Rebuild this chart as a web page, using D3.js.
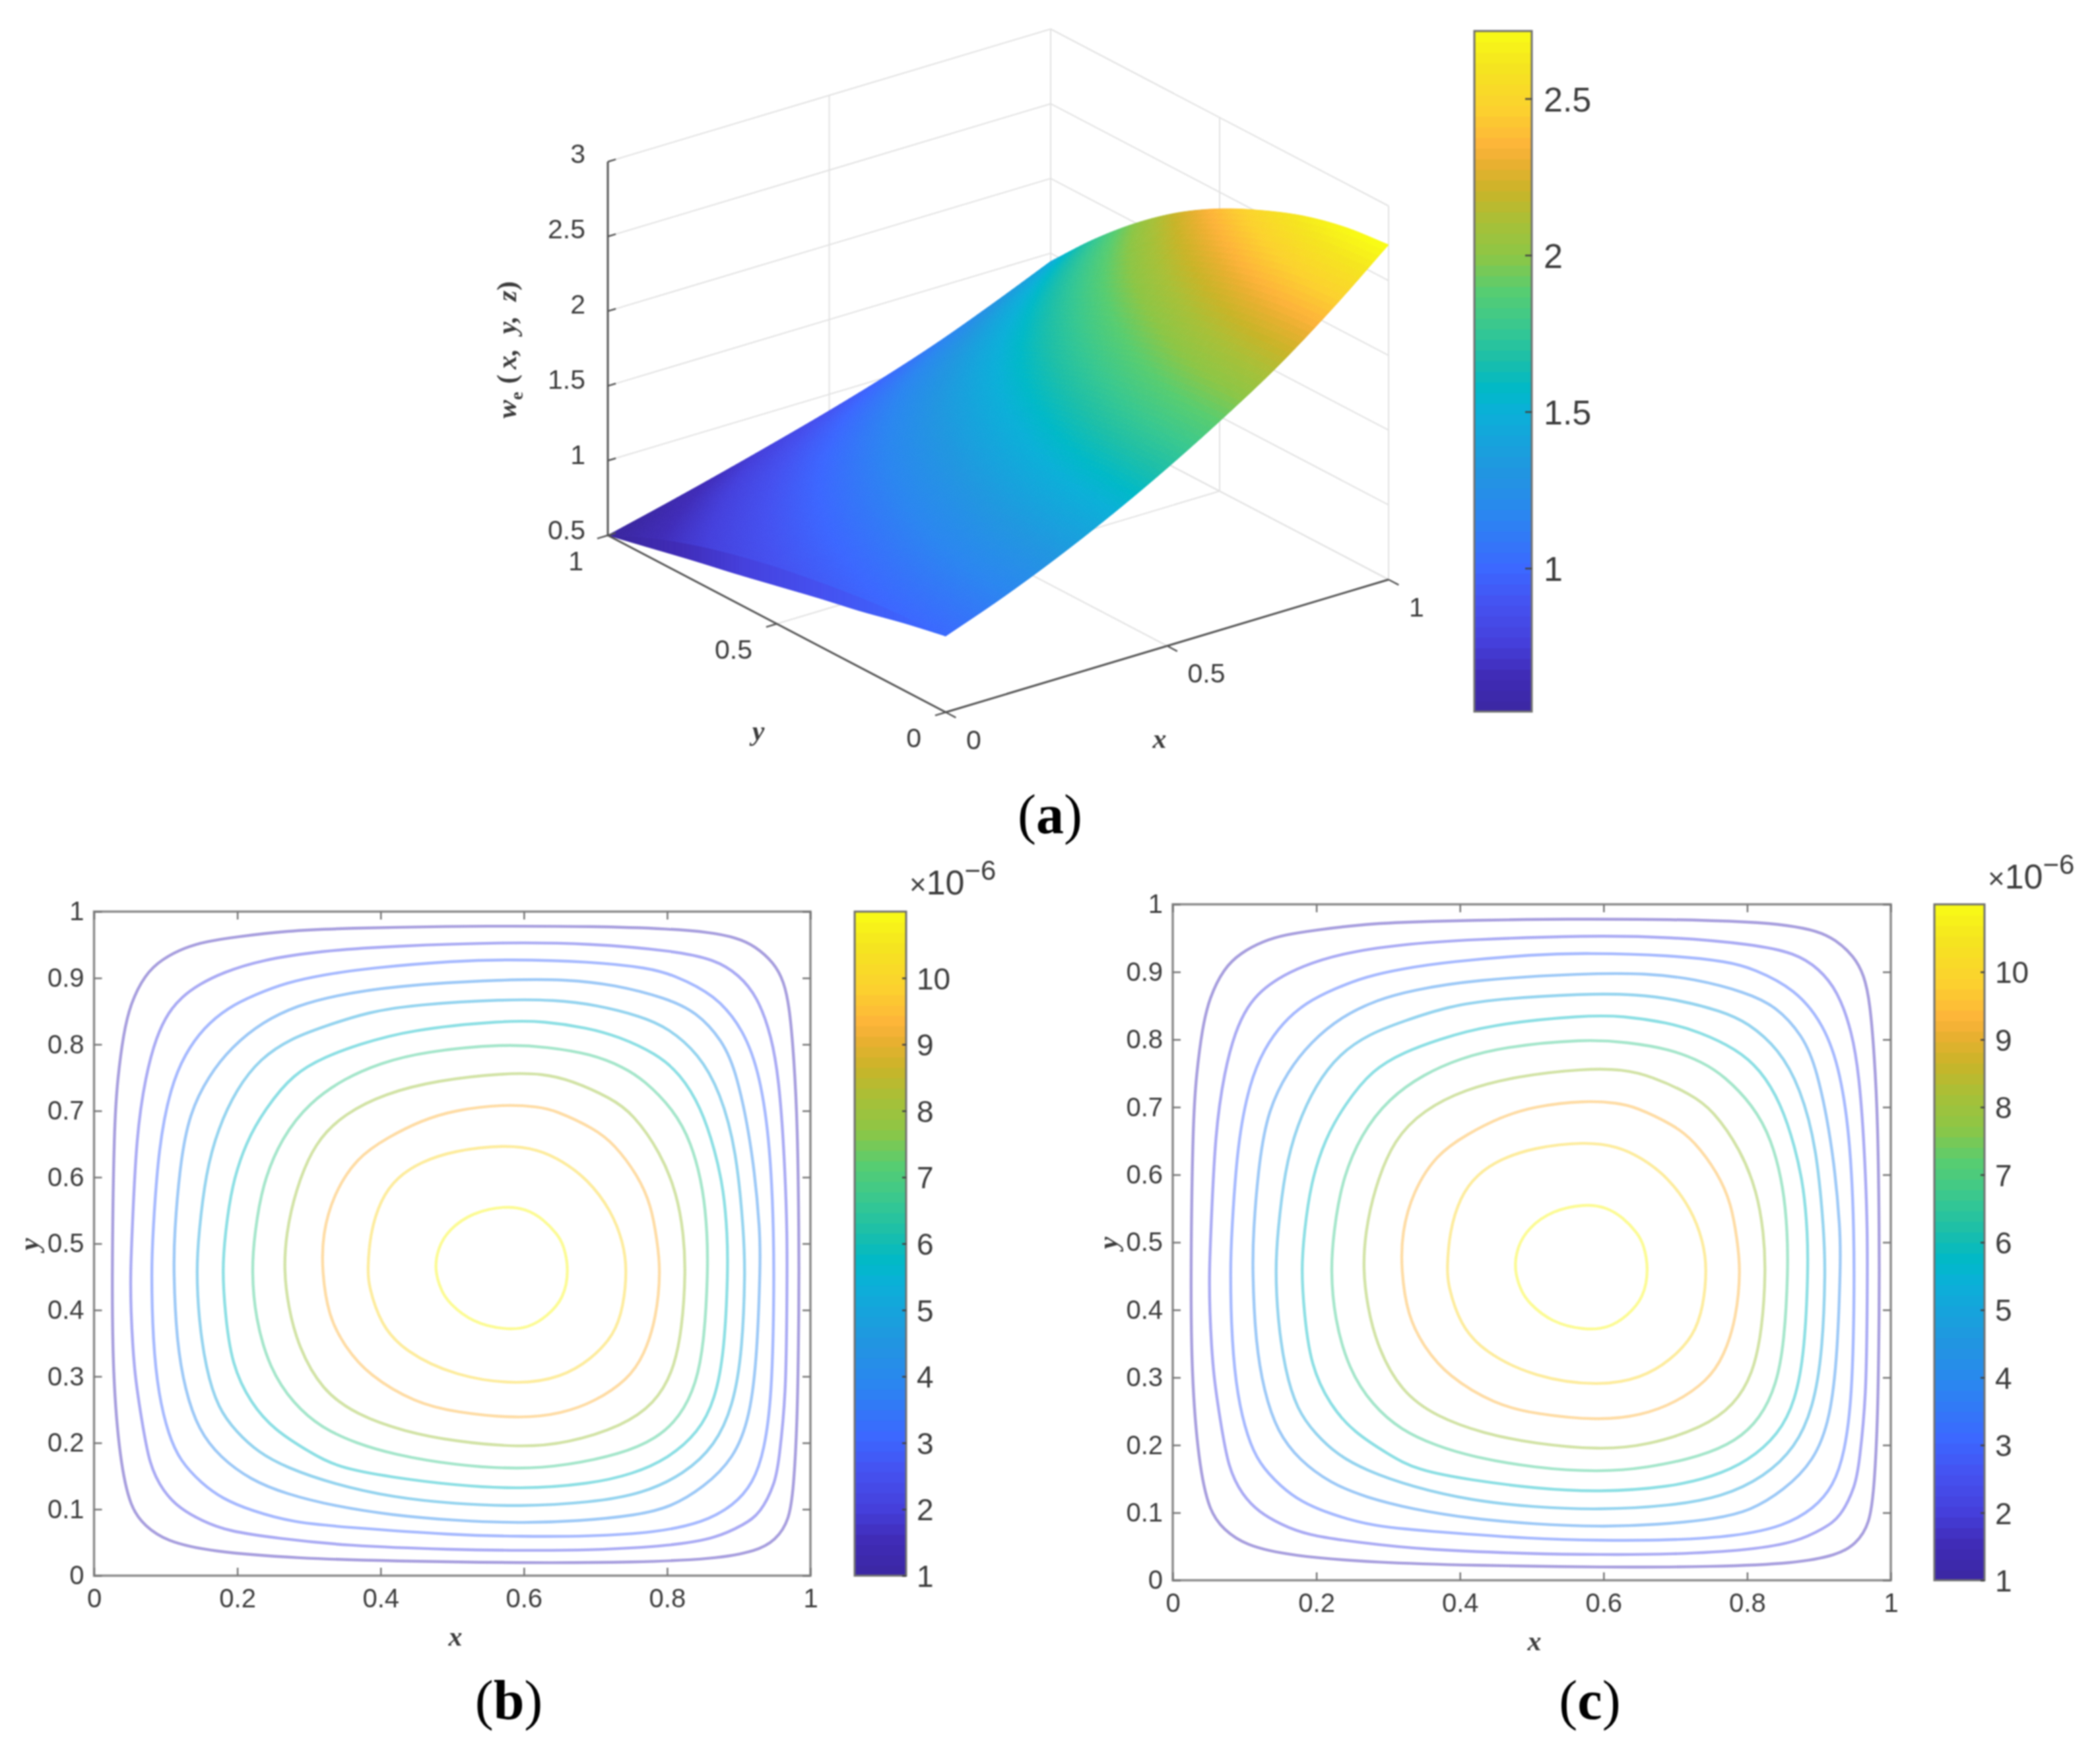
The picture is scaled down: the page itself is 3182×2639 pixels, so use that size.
<!DOCTYPE html>
<html><head><meta charset="utf-8">
<script src="https://cdnjs.cloudflare.com/ajax/libs/d3/7.8.5/d3.min.js"></script>
<style>
html,body{margin:0;padding:0;background:#fff}
svg{display:block;filter:blur(1.1px)}
text{font-family:"Liberation Sans",Arial,sans-serif;fill:#3c3c3c}
.serif{font-family:"Liberation Serif",serif}
</style></head><body><div id="chart"></div>
<script>
// colormap stops
const cmapStops=[0,.056,.103,.156,.209,.288,.354,.44,.474,.52,.566,.62,.669,.719,.765,.805,.831,.884,.95,1];
const cmapColors=["#3b27a2","#402cb8","#4540dc","#4551f0","#3c67ff","#2b86f0","#2196e0","#0bb0d8","#00b9c8","#1dbfa8","#38c890","#58cd70","#8cc646","#a8c038","#c9b428","#e8b030","#fdb33a","#fcd12f","#f5e51f","#f9fb15"];

// surface panel (a)
const surfX=[0,.125,.25,.375,.5,.625,.75,.875,1];
const surfY=[0,.125,.25,.375,.5,.625,.75,.875,1];
const surfW=[
[1.010,1.150,1.310,1.490,1.690,1.910,2.150,2.430,2.740],
[0.998,1.136,1.294,1.472,1.670,1.887,2.124,2.401,2.707],
[0.972,1.106,1.260,1.433,1.626,1.837,2.068,2.338,2.636],
[0.931,1.060,1.208,1.374,1.558,1.761,1.982,2.240,2.526],
[0.881,1.003,1.142,1.299,1.474,1.666,1.875,2.119,2.389],
[0.816,0.929,1.058,1.204,1.366,1.543,1.737,1.963,2.214],
[0.735,0.837,0.954,1.085,1.230,1.390,1.565,1.769,1.995],
[0.632,0.725,0.831,0.945,1.071,1.211,1.363,1.541,1.737],
[0.500,0.590,0.685,0.785,0.890,1.005,1.135,1.285,1.445]];
const foldEdgeW=[1.01,.95,.88,.82,.755,.69,.63,.565,.50];
const zTicks3d=[.5,1,1.5,2,2.5,3];
const xyTicks3d=[0,.5,1];
const colorbarATicks=[1,1.5,2,2.5];
const colorbarADomain=[.542,2.716];

// contour panels (b),(c)
const contourLevels=[1.5,2.3,3.1,4.0,4.9,5.8,6.7,8.0,9.3,10.0,10.9];
const c01=[[.574,.978],[.693,.978],[.808,.974],[.857,.969],[.897,.961],[.923,.948],[.949,.923],[.963,.895],[.971,.855],[.977,.779],[.982,.680],[.984,.514],[.984,.405],[.982,.239],[.977,.139],[.971,.083],[.951,.053],[.925,.037],[.867,.025],[.758,.020],[.600,.019],[.416,.022],[.285,.026],[.163,.036],[.100,.052],[.071,.075],[.051,.101],[.036,.173],[.026,.305],[.025,.460],[.028,.680],[.033,.749],[.041,.816],[.051,.862],[.071,.905],[.094,.928],[.127,.946],[.156,.955],[.199,.962],[.268,.971],[.350,.975],[.505,.978]];
const c02=[[.574,.954],[.693,.952],[.808,.941],[.867,.928],[.900,.905],[.926,.872],[.946,.812],[.956,.746],[.963,.647],[.968,.514],[.967,.405],[.966,.272],[.956,.173],[.951,.140],[.930,.093],[.907,.077],[.870,.057],[.808,.045],[.693,.038],[.594,.038],[.504,.039],[.350,.045],[.258,.056],[.186,.067],[.150,.083],[.120,.101],[.097,.126],[.077,.166],[.066,.239],[.056,.305],[.051,.405],[.051,.460],[.053,.514],[.059,.663],[.072,.753],[.087,.812],[.104,.849],[.123,.872],[.146,.890],[.179,.908],[.232,.927],[.318,.941],[.416,.948]];
const c03=[[.574,.928],[.693,.925],[.775,.915],[.808,.905],[.867,.875],[.907,.822],[.930,.753],[.944,.646],[.949,.514],[.949,.405],[.946,.272],[.936,.189],[.920,.139],[.893,.106],[.851,.080],[.785,.065],[.693,.059],[.594,.059],[.504,.061],[.350,.073],[.278,.080],[.219,.098],[.179,.116],[.150,.139],[.120,.173],[.104,.212],[.090,.272],[.082,.355],[.080,.460],[.082,.514],[.090,.647],[.107,.736],[.127,.786],[.153,.825],[.186,.855],[.225,.875],[.268,.893],[.321,.905],[.383,.915],[.505,.926]];
const c04=[[.574,.898],[.660,.898],[.726,.890],[.798,.870],[.841,.849],[.877,.806],[.897,.759],[.920,.637],[.930,.514],[.930,.471],[.926,.338],[.916,.239],[.893,.176],[.851,.133],[.805,.103],[.758,.091],[.676,.082],[.594,.079],[.504,.083],[.416,.091],[.334,.105],[.268,.123],[.219,.144],[.176,.178],[.146,.219],[.127,.279],[.115,.355],[.111,.460],[.112,.514],[.120,.620],[.133,.696],[.160,.753],[.192,.796],[.235,.834],[.285,.859],[.334,.873],[.416,.888]];
const c05=[[.574,.868],[.643,.867],[.699,.860],[.765,.842],[.801,.825],[.844,.786],[.874,.729],[.897,.640],[.907,.514],[.909,.460],[.905,.338],[.892,.255],[.867,.196],[.824,.153],[.765,.123],[.693,.110],[.594,.104],[.504,.108],[.416,.118],[.334,.138],[.268,.163],[.229,.186],[.199,.216],[.173,.252],[.156,.312],[.146,.388],[.143,.460],[.146,.514],[.156,.607],[.173,.673],[.199,.733],[.232,.779],[.275,.809],[.321,.827],[.383,.849],[.449,.860]];
const c06=[[.574,.836],[.627,.835],[.689,.825],[.732,.812],[.785,.786],[.818,.756],[.847,.706],[.867,.640],[.879,.580],[.884,.514],[.885,.460],[.880,.338],[.867,.265],[.844,.216],[.801,.176],[.752,.153],[.693,.138],[.594,.130],[.504,.136],[.416,.148],[.339,.163],[.301,.186],[.252,.219],[.219,.259],[.192,.318],[.183,.395],[.179,.460],[.183,.514],[.192,.587],[.212,.653],[.239,.703],[.278,.756],[.324,.782],[.367,.799],[.439,.822]];
const c07=[[.574,.801],[.633,.796],[.693,.786],[.739,.766],[.768,.746],[.808,.703],[.834,.653],[.851,.580],[.856,.514],[.857,.460],[.852,.355],[.841,.289],[.818,.239],[.785,.206],[.735,.183],[.660,.166],[.594,.160],[.504,.166],[.416,.183],[.367,.199],[.318,.222],[.278,.259],[.245,.312],[.225,.388],[.220,.460],[.224,.514],[.235,.590],[.262,.660],[.301,.713],[.350,.749],[.400,.772],[.459,.789]];
const c08=[[.574,.757],[.627,.756],[.666,.746],[.722,.719],[.752,.696],[.791,.637],[.814,.574],[.823,.514],[.826,.460],[.821,.371],[.808,.305],[.782,.259],[.739,.226],[.660,.199],[.594,.193],[.504,.202],[.433,.217],[.367,.242],[.318,.279],[.285,.345],[.271,.405],[.265,.460],[.268,.514],[.281,.580],[.308,.653],[.350,.696],[.406,.726],[.479,.746]];
const c09=[[.574,.710],[.620,.706],[.643,.701],[.699,.673],[.726,.650],[.759,.603],[.778,.557],[.786,.504],[.791,.460],[.785,.388],[.768,.332],[.745,.295],[.699,.262],[.653,.244],[.594,.236],[.504,.246],[.449,.260],[.383,.302],[.350,.345],[.327,.391],[.318,.460],[.319,.514],[.334,.574],[.367,.630],[.410,.660],[.456,.685],[.502,.701]];
const c10=[[.574,.649],[.620,.642],[.653,.625],[.689,.597],[.722,.550],[.739,.501],[.744,.460],[.739,.405],[.726,.362],[.693,.325],[.653,.299],[.594,.287],[.504,.300],[.433,.338],[.400,.378],[.383,.438],[.382,.460],[.385,.514],[.400,.567],[.423,.600],[.456,.623],[.502,.640]];
const c11=[[.574,.557],[.604,.552],[.627,.537],[.647,.514],[.656,.497],[.663,.460],[.656,.418],[.633,.391],[.607,.373],[.574,.370],[.528,.381],[.495,.411],[.485,.428],[.475,.460],[.480,.494],[.495,.521],[.528,.547]];
const contourPaths=[c01,c02,c03,c04,c05,c06,c07,c08,c09,c10,c11];
const xTicks2d=[0,.2,.4,.6,.8,1];
const yTicks2d=[0,.1,.2,.3,.4,.5,.6,.7,.8,.9,1];
const colorbarTicks2d=[1,2,3,4,5,6,7,8,9,10];
const colorbarDomain2d=[1,11];

const W=3182,H=2639;
const svg=d3.select("#chart").append("svg").attr("width",W).attr("height",H).attr("viewBox",`0 0 ${W} ${H}`);
const cmap=d3.scaleLinear().domain(cmapStops).range(cmapColors).interpolate(d3.interpolateRgb).clamp(true);

function colorbar(x0,x1,y0,y1,domain,ticks,labelDx,fs,tickLen){
  const g=svg.append("g");
  const s=d3.scaleLinear().domain(domain).range([y1,y0]);
  const steps=d3.range(0,64);
  g.selectAll("rect.c").data(steps).join("rect").attr("class","c")
    .attr("x",x0).attr("width",x1-x0)
    .attr("y",i=>y1-(i+1)/64*(y1-y0)).attr("height",(y1-y0)/64+1)
    .attr("fill",i=>cmap((i+.5)/64));
  g.append("rect").attr("x",x0).attr("y",y0).attr("width",x1-x0).attr("height",y1-y0)
    .attr("fill","none").attr("stroke","#707070").attr("stroke-width",3);
  const ax=d3.axisRight(s).tickValues(ticks).tickSize(0).tickPadding(0).tickFormat(d=>String(d));
  const ag=g.append("g").attr("transform",`translate(${x1},0)`).call(ax);
  ag.select(".domain").remove();
  ag.selectAll(".tick line").attr("x1",-tickLen).attr("x2",0).attr("stroke","#444").attr("stroke-width",2.5);
  ag.selectAll(".tick text").attr("x",labelDx).attr("dy",".36em").attr("font-size",fs).attr("fill","#3c3c3c");
}

function contourPanel(fx0,fx1,fy0,fy1,cb0,cb1,expX,expY,xlab,ylab){
  const x=d3.scaleLinear().domain([0,1]).range([fx0,fx1]);
  const y=d3.scaleLinear().domain([0,1]).range([fy1,fy0]);
  const g=svg.append("g");
  const line=d3.line().x(d=>x(d[0])).y(d=>y(d[1])).curve(d3.curveBasisClosed);
  g.selectAll("path.cl").data(contourPaths).join("path").attr("class","cl")
    .attr("d",d=>line(d)).attr("fill","none")
    .attr("stroke",(d,i)=>cmap((contourLevels[i]-colorbarDomain2d[0])/(colorbarDomain2d[1]-colorbarDomain2d[0])))
    .attr("stroke-width",4.4).attr("stroke-opacity",.46);
  g.append("rect").attr("x",fx0).attr("y",fy0).attr("width",fx1-fx0).attr("height",fy1-fy0)
    .attr("fill","none").attr("stroke","#8c8c8c").attr("stroke-width",3.5);
  const style=a=>{a.select(".domain").remove();
    a.selectAll(".tick line").attr("stroke","#777").attr("stroke-width",2.5);
    a.selectAll(".tick text").attr("font-size",40).attr("fill","#4a4a4a");};
  const fmt=d=>String(d);
  g.append("g").attr("transform",`translate(0,${fy1})`).call(d3.axisBottom(x).tickValues(xTicks2d).tickSizeInner(-12).tickSizeOuter(0).tickPadding(20).tickFormat(fmt)).call(style);
  g.append("g").attr("transform",`translate(0,${fy0})`).call(d3.axisTop(x).tickValues(xTicks2d).tickSizeInner(-12).tickSizeOuter(0).tickFormat(()=>"")).call(style);
  g.append("g").attr("transform",`translate(${fx0},0)`).call(d3.axisLeft(y).tickValues(yTicks2d).tickSizeInner(-12).tickSizeOuter(0).tickPadding(15).tickFormat(fmt)).call(style);
  g.append("g").attr("transform",`translate(${fx1},0)`).call(d3.axisRight(y).tickValues(yTicks2d).tickSizeInner(-12).tickSizeOuter(0).tickFormat(()=>"")).call(style);
  colorbar(cb0,cb1,fy0,fy1,colorbarDomain2d,colorbarTicks2d,16,46,6);
  const e=svg.append("text").attr("x",expX).attr("y",expY).attr("font-size",52);
  e.append("tspan").attr("font-size",44).text("×");
  e.append("tspan").text("10");
  e.append("tspan").attr("font-size",42).attr("dy",-22).text("−6");
  axisWord(xlab[0],xlab[1],"x",0);
  axisWord(ylab[0],ylab[1],"y",-90);
}
function axisWord(px,py,t,rot){
  svg.append("text").attr("class","serif").attr("text-anchor","middle").attr("dy",".3em")
    .attr("transform",`translate(${px},${py}) rotate(${rot})`)
    .attr("font-size",42).attr("font-style","italic").attr("font-weight","bold").attr("fill","#3a3a3a").text(t);
}
function panelTag(px,py,letter){
  const t=svg.append("text").attr("class","serif").attr("x",px).attr("y",py).attr("text-anchor","middle").attr("font-size",84).attr("fill","#000").style("fill","#000");
  t.append("tspan").text("(");
  t.append("tspan").attr("font-weight","bold").text(letter);
  t.append("tspan").text(")");
}

// ---------- 3D panel
const ox=1433, oy=1079;
const xDx=d3.scaleLinear().domain([0,1]).range([0,671]);
const xDy=d3.scaleLinear().domain([0,1]).range([0,-201]);
const yDx=d3.scaleLinear().domain([0,1]).range([0,-512]);
const yDy=d3.scaleLinear().domain([0,1]).range([0,-268]);
const zDy=d3.scaleLinear().domain([.5,3]).range([0,-566]);
const P=(x,y,z)=>[ox+xDx(x)+yDx(y), oy+xDy(x)+yDy(y)+zDy(z)];

const gA=svg.append("g");
function seg(a,b,col,w){gA.append("line").attr("x1",a[0]).attr("y1",a[1]).attr("x2",b[0]).attr("y2",b[1]).attr("stroke",col).attr("stroke-width",w);}
const gridCol="#e2e2e2";
zTicks3d.forEach(z=>{seg(P(0,1,z),P(1,1,z),gridCol,2);seg(P(1,1,z),P(1,0,z),gridCol,2);});
xyTicks3d.forEach(v=>{
  seg(P(v,1,.5),P(v,1,3),gridCol,2);
  seg(P(1,v,.5),P(1,v,3),gridCol,2);
  seg(P(v,0,.5),P(v,1,.5),gridCol,2);
  seg(P(0,v,.5),P(1,v,.5),gridCol,2);
});
function cr(p0,p1,p2,p3,t){return .5*((2*p1)+(-p0+p2)*t+(2*p0-5*p1+4*p2-p3)*t*t+(-p0+3*p1-3*p2+p3)*t*t*t);}
function cr1(a,u){const n=a.length-1,s=Math.min(u*n,n-1e-9),i=Math.floor(s),t=s-i;
  const g=k=>k<0?2*a[0]-a[1]:k>n?2*a[n]-a[n-1]:a[k];
  return cr(g(i-1),g(i),g(i+1),g(i+2),t);}
const sampleW=(x,y)=>cr1(surfW.map(r=>cr1(r,x)),y);
const N=90;
const fillOf=v=>cmap((v-colorbarADomain[0])/(colorbarADomain[1]-colorbarADomain[0]));
const cells=[];
for(let j=N-1;j>=0;j--){
  const y0=j/N,y1=(j+1)/N;
  const a0=cr1(foldEdgeW,y0),a1=cr1(foldEdgeW,y1),b0=sampleW(0,y0),b1=sampleW(0,y1);
  cells.push({pts:[P(0,y0,a0),P(0,y1,a1),P(0,y1,b1),P(0,y0,b0)],v:(a0+a1+b0+b1)/4});
}
for(let i=N-1;i>=0;i--)for(let j=N-1;j>=0;j--){
  const x0=i/N,x1=(i+1)/N,y0=j/N,y1=(j+1)/N;
  const w00=sampleW(x0,y0),w10=sampleW(x1,y0),w01=sampleW(x0,y1),w11=sampleW(x1,y1);
  cells.push({pts:[P(x0,y0,w00),P(x1,y0,w10),P(x1,y1,w11),P(x0,y1,w01)],v:(w00+w10+w01+w11)/4});
}
gA.selectAll("polygon").data(cells).join("polygon")
  .attr("points",d=>d.pts.map(p=>p.join(",")).join(" "))
  .attr("fill",d=>fillOf(d.v)).attr("stroke",d=>fillOf(d.v)).attr("stroke-width",1);
const axCol="#555";
seg(P(0,1,.5),P(0,1,3),axCol,3);
seg(P(0,1,.5),P(0,0,.5),axCol,3);
seg(P(0,0,.5),P(1,0,.5),axCol,3);
zTicks3d.forEach(z=>{seg(P(0,1,z),P(.018,1,z),axCol,2.5);
  const p=P(0,1,z);
  gA.append("text").attr("x",p[0]-34).attr("y",p[1]-9-(z-.5)*1.6).attr("dy",".36em").attr("text-anchor","end").attr("font-size",41).text(String(z));});
xyTicks3d.forEach(v=>{
  seg(P(0,v,.5),P(-.024,v,.5),axCol,2.5);
  seg(P(v,0,.5),P(v,-.03,.5),axCol,2.5);
  const py=P(0,v,.5),px=P(v,0,.5);
  gA.append("text").attr("x",py[0]-37).attr("y",py[1]+38).attr("dy",".36em").attr("text-anchor","end").attr("font-size",41).text(String(v));
  gA.append("text").attr("x",px[0]+31).attr("y",px[1]+41).attr("dy",".36em").attr("text-anchor","start").attr("font-size",41).text(String(v));
});
axisWord(1149,1108,"y",0);
axisWord(1757,1120,"x",0);
const zl=svg.append("text").attr("class","serif").attr("text-anchor","middle").attr("transform","translate(769,530) rotate(-90)")
  .attr("font-size",42).attr("font-weight","bold").attr("font-style","italic").attr("fill","#3a3a3a").attr("dy",".3em");
zl.append("tspan").text("w");
zl.append("tspan").attr("font-size",28).attr("dy",10).attr("font-style","normal").text("e");
zl.append("tspan").attr("dy",-10).attr("dx",12).attr("font-style","normal").text("(");
zl.append("tspan").attr("dx",8).text("x,");
zl.append("tspan").attr("dx",22).text("y,");
zl.append("tspan").attr("dx",22).text("z");
zl.append("tspan").attr("font-style","normal").text(")");

colorbar(2234,2321,47,1078,colorbarADomain,colorbarATicks,18,52,10);

contourPanel(142.5,1228,1381,2387,1295,1373,1378,1355,[690,2480],[45,1885]);
contourPanel(1777,2865,1370,2394,2931,3007,3012,1346,[2325,2487],[1680,1883]);
panelTag(1591,1262,"a");
panelTag(771,2604,"b");
panelTag(2409,2604,"c");
</script></body></html>
